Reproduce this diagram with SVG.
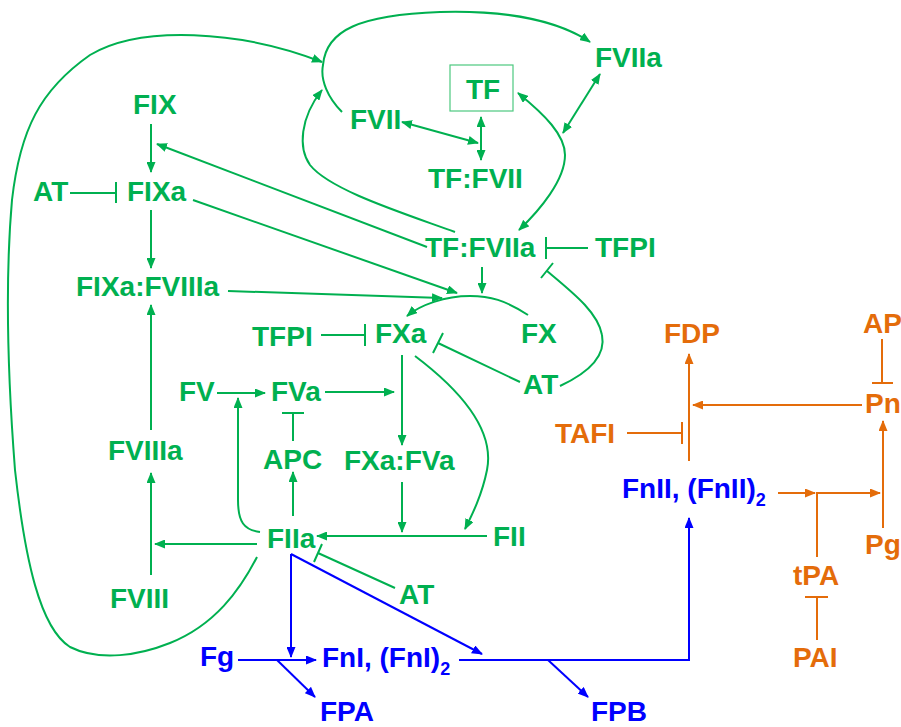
<svg xmlns="http://www.w3.org/2000/svg" width="901" height="727" viewBox="0 0 901 727">
<style>
text{font-family:"Liberation Sans",Arial,sans-serif;font-weight:bold;font-size:28px}
.g{fill:#00B050}.b{fill:#0000FF}.o{fill:#E46C0A}
.sub{font-size:18px}
.cg{stroke:#00B050;stroke-width:2;fill:none}
.cb{stroke:#0000FF;stroke-width:2;fill:none}
.co{stroke:#E46C0A;stroke-width:2;fill:none}
.ag{marker-end:url(#mg)}.ab{marker-end:url(#mb)}.ao{marker-end:url(#mo)}
.dg{marker-start:url(#mg);marker-end:url(#mg)}
</style>
<defs>
<marker id="mg" markerUnits="userSpaceOnUse" markerWidth="11" markerHeight="9" refX="10" refY="4.5" orient="auto-start-reverse"><path d="M0,0 L11,4.5 L0,9 z" fill="#00B050"/></marker>
<marker id="mb" markerUnits="userSpaceOnUse" markerWidth="11" markerHeight="9" refX="10" refY="4.5" orient="auto-start-reverse"><path d="M0,0 L11,4.5 L0,9 z" fill="#0000FF"/></marker>
<marker id="mo" markerUnits="userSpaceOnUse" markerWidth="11" markerHeight="9" refX="10" refY="4.5" orient="auto-start-reverse"><path d="M0,0 L11,4.5 L0,9 z" fill="#E46C0A"/></marker>
</defs>
<rect width="901" height="727" fill="#fff"/>
<g id="connectors">
<path class="cg ag" d="M151,124 L151,172"/>
<path class="cg" d="M70,193 L116,193 M116,182 L116,203"/>
<path class="cg ag" d="M151,210 L151,268"/>
<path class="cg ag" d="M151,430 L151,305"/>
<path class="cg ag" d="M151,575 L151,473"/>
<path class="cg ag" d="M257,544 L155,544"/>
<path class="cg ag" d="M293,516 L293,472"/>
<path class="cg" d="M293,441 L293,413 M282,413 L304,413"/>
<path class="cg ag" d="M217,393 L265,393"/>
<path class="cg ag" d="M325,392 L394,392"/>
<path class="cg ag" d="M402,355 L402,445"/>
<path class="cg ag" d="M402,482 L402,532"/>
<path class="cg ag" d="M487,536 L317,536"/>
<path class="cg ag" d="M260,532 C244,530 238,522 238,500 L238,398"/>
<path class="cg" d="M395,588 L318,553 M322,544 L314,562"/>
<path class="cg ag" d="M415,356 C460,390 495,430 487,470 C482,495 472,515 465,529"/>
<path class="cg ag" d="M193,200 L457,293"/>
<path class="cg ag" d="M228,291 L442,298"/>
<path class="cg ag" d="M427,247 L157,144"/>
<path class="cg ag" d="M482,267 L482,293"/>
<path class="cg ag" d="M528,315 C505,300 490,296 470,296 C445,296 420,305 407,316"/>
<path class="cg" d="M588,248 L546,248 M546,237 L546,259"/>
<path class="cg" d="M321,335 L365,335 M365,324 L365,346"/>
<path class="cg" d="M520,382 L438,343 M443,333 L433,353"/>
<path class="cg" d="M560,386 C590,372 606,355 602,335 C598,312 572,292 547,271 M541,278 L553,263"/>
<path class="cg dg" d="M481,117 L481,160"/>
<path class="cg dg" d="M402,122 L478,143"/>
<path class="cg dg" d="M600,74 L563,133"/>
<path class="cg dg" d="M518,93 C545,115 565,135 565,155 C565,180 540,210 519,230"/>
<path class="cg ag" d="M342,112 C328,98 320,80 323,65 C326,30 360,15 440,12 C510,10 560,22 590,42"/>
<path class="cg ag" d="M455,232 C400,212 330,190 310,165 C298,148 300,118 322,90"/>
<path class="cg ag" d="M257,557 C240,590 215,625 170,643 C140,655 100,662 70,647 C40,628 25,560 15,470 C8,380 5,280 12,200 C20,130 40,90 90,55 C140,25 240,30 322,62"/>
<path class="cb ab" d="M291,554 L291,657"/>
<path class="cb ab" d="M291,554 L482,654"/>
<path class="cb ab" d="M238,660 L316,660"/>
<path class="cb ab" d="M277,660 L315,697"/>
<path class="cb ab" d="M459,660 L689,660 L689,518"/>
<path class="cb ab" d="M548,660 L588,697"/>
<path class="co ao" d="M778,493 L815,493"/>
<path class="co ao" d="M817,557 L817,493 L880,493"/>
<path class="co" d="M817,640 L817,597 M805,597 L828,597"/>
<path class="co ao" d="M883,528 L883,421"/>
<path class="co" d="M882,339 L882,383 M872,383 L893,383"/>
<path class="co ao" d="M862,405 L693,405"/>
<path class="co ao" d="M689,461 L689,354"/>
<path class="co" d="M627,433 L682,433 M682,422 L682,444"/>
</g>
<g id="FIX"><text class="g" x="133" y="114">FIX</text></g>
<g id="AT1"><text class="g" x="33" y="201">AT</text></g>
<g id="FIXa"><text class="g" x="127" y="201">FIXa</text></g>
<g id="FIXa_FVIIIa"><text class="g" x="76" y="296">FIXa:FVIIIa</text></g>
<g id="TFPI1"><text class="g" x="252" y="346">TFPI</text></g>
<g id="FXa"><text class="g" x="375" y="343">FXa</text></g>
<g id="FX"><text class="g" x="521" y="343">FX</text></g>
<g id="AT2"><text class="g" x="523" y="394">AT</text></g>
<g id="FV"><text class="g" x="179" y="401">FV</text></g>
<g id="FVa"><text class="g" x="271" y="401">FVa</text></g>
<g id="APC"><text class="g" x="263" y="469">APC</text></g>
<g id="FXa_FVa"><text class="g" x="344" y="470">FXa:FVa</text></g>
<g id="FVIIIa"><text class="g" x="108" y="460">FVIIIa</text></g>
<g id="FVIII"><text class="g" x="110" y="608">FVIII</text></g>
<g id="FIIa"><text class="g" x="267" y="548">FIIa</text></g>
<g id="FII"><text class="g" x="493" y="546">FII</text></g>
<g id="AT3"><text class="g" x="399" y="604">AT</text></g>
<g id="TF"><rect x="450" y="65" width="63" height="46" fill="none" stroke="#4CC97F" stroke-width="1.2"/><text class="g" x="466" y="99">TF</text></g>
<g id="FVII"><text class="g" x="350" y="129">FVII</text></g>
<g id="FVIIa"><text class="g" x="595" y="67">FVIIa</text></g>
<g id="TF_FVII"><text class="g" x="428" y="188">TF:FVII</text></g>
<g id="TF_FVIIa"><text class="g" x="425" y="257">TF:FVIIa</text></g>
<g id="TFPI2"><text class="g" x="595" y="257">TFPI</text></g>
<g id="Fg"><text class="b" x="200" y="666">Fg</text></g>
<g id="FnI"><text class="b" x="322" y="667">FnI, (FnI)<tspan class="sub" dy="8">2</tspan></text></g>
<g id="FPA"><text class="b" x="320" y="721">FPA</text></g>
<g id="FPB"><text class="b" x="591" y="721">FPB</text></g>
<g id="FnII"><text class="b" x="622" y="498">FnII, (FnII)<tspan class="sub" dy="8">2</tspan></text></g>
<g id="FDP"><text class="o" x="664" y="343">FDP</text></g>
<g id="TAFI"><text class="o" x="555" y="443">TAFI</text></g>
<g id="AP"><text class="o" x="863" y="333">AP</text></g>
<g id="Pn"><text class="o" x="865" y="413">Pn</text></g>
<g id="Pg"><text class="o" x="865" y="554">Pg</text></g>
<g id="tPA"><text class="o" x="793" y="585">tPA</text></g>
<g id="PAI"><text class="o" x="793" y="667">PAI</text></g>
</svg>
